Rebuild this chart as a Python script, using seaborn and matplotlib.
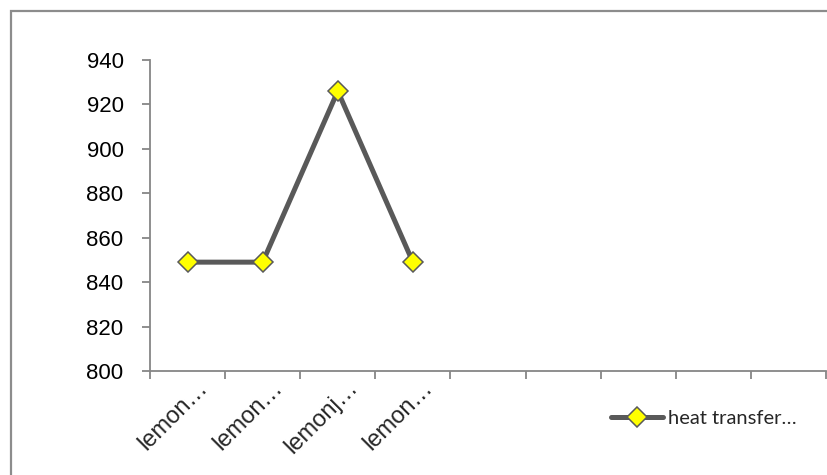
"""Line chart: heat transfer values for four lemon samples (Excel-style)."""

import matplotlib.pyplot as plt
import matplotlib.patches as mpatches
import matplotlib.transforms as mtransforms
import numpy as np
import pandas as pd
import seaborn as sns

# Data
categories = ["lemon…", "lemon…", "lemonj…", "lemon…"]
heat_transfer = [849, 849, 926, 849]
series_name = "heat transfer…"
y_ticks = [800, 820, 840, 860, 880, 900, 920, 940]

N_SLOTS = 9  # category axis has room for 9 slots, only 4 are filled

AXIS_GREY = "#868686"
LINE_GREY = "#595959"

sns.set_style("white")
plt.rcParams["font.family"] = ["Liberation Sans", "DejaVu Sans"]

df = pd.DataFrame({"pos": np.arange(len(categories)), "value": heat_transfer})

fig = plt.figure(figsize=(8.28, 4.75), dpi=100)
ax = fig.add_axes([150 / 828, 1 - 371 / 475, 676 / 828, (371 - 60) / 475])

sns.lineplot(data=df, x="pos", y="value", ax=ax, color=LINE_GREY,
             linewidth=3.6, marker="D", markersize=10.5,
             markerfacecolor="#FFFF00", markeredgecolor=LINE_GREY,
             markeredgewidth=1.1, label=series_name, legend=False,
             solid_capstyle="round")

ax.set_xlim(-0.5, N_SLOTS - 0.5)
ax.set_ylim(y_ticks[0], y_ticks[-1])
ax.set_xlabel("")
ax.set_ylabel("")

# y axis: ticks pointing left
ax.set_yticks(y_ticks)
ax.tick_params(axis="y", direction="out", length=6, width=1.3, color=AXIS_GREY,
               pad=13, labelsize=16, labelcolor="black", left=True)

# x axis: tick marks at slot boundaries, labels at slot centres
ax.set_xticks(np.arange(N_SLOTS + 1) - 0.5)
ax.set_xticklabels([])
ax.tick_params(axis="x", which="major", direction="out", length=6, width=1.3,
               color=AXIS_GREY, bottom=True)
ax.set_xticks(np.arange(len(categories)), minor=True)
ax.set_xticklabels(categories, minor=True, rotation=45, ha="right",
                   rotation_mode="anchor", fontsize=17)
ax.tick_params(axis="x", which="minor", length=0, pad=4)
shift = mtransforms.ScaledTranslation(9 / 100, 0, fig.dpi_scale_trans)
for lbl in ax.get_xticklabels(minor=True):
    lbl.set_transform(lbl.get_transform() + shift)

for side in ["top", "right"]:
    ax.spines[side].set_visible(False)
for side in ["left", "bottom"]:
    ax.spines[side].set_color(AXIS_GREY)
    ax.spines[side].set_linewidth(1.3)

# legend on the right, below the plot area
handles, labels = ax.get_legend_handles_labels()
leg = fig.legend(handles, labels, loc="center left",
                 bbox_to_anchor=(603 / 828, 1 - 418 / 475), frameon=False,
                 handlelength=2.6, handletextpad=0.25, borderaxespad=0,
                 prop={"family": "Lato", "size": 14.5})

# chart area border (cut off at right and bottom in the original)
fig.patches.append(mpatches.Rectangle((11 / 828, -0.1), 1.2, 1 - 11 / 475 + 0.1,
                                      transform=fig.transFigure, fill=False,
                                      edgecolor="#8c8c8c", linewidth=1.6))

fig.savefig("out.png", dpi=100)
